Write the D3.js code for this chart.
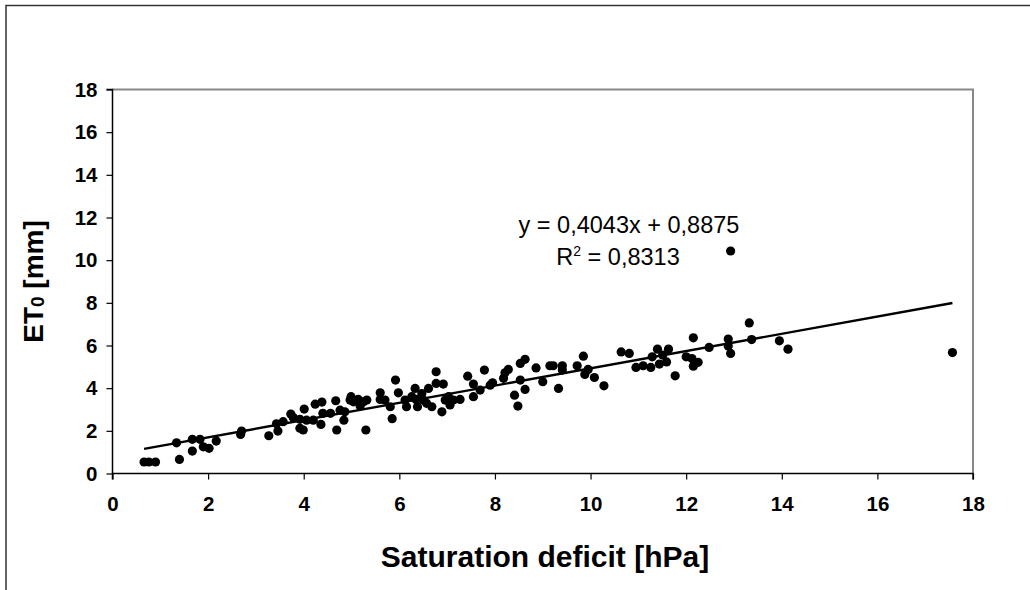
<!DOCTYPE html>
<html><head><meta charset="utf-8">
<script src="https://cdn.jsdelivr.net/npm/d3@7"></script>
<style>body{margin:0;background:#fff}svg{display:block;font-family:Arial,"Liberation Sans",sans-serif}</style>
</head><body>
<script>
const xVals = [0.66,0.76,0.9,1.34,1.40,1.67,1.67,1.83,1.90,2.02,2.17,2.70,2.68,3.27,3.43,3.46,3.57,3.73,3.78,3.92,3.92,3.99,4.01,4.06,4.2,4.24,4.38,4.36,4.4,4.56,4.67,4.69,4.76,4.84,4.86,4.97,
4.99,5.04,5.14,5.18,5.25,5.32,5.30,5.6,5.6,5.7,5.81,5.85,5.92,5.98,6.12,6.15,6.26,6.33,6.35,6.38,6.47,6.5,6.57,6.61,6.68,6.77,6.77,6.89,6.92,6.96,7.03,7.06,7.13,7.27,7.43,7.55,7.55,7.69,7.78,7.90,7.95,8.18,8.21,8.28,8.41,8.48,8.53,8.53,8.63,8.63,8.86,9.0,9.15,9.22,9.33,9.41,9.41,9.72,
9.85,9.88,9.95,10.08,10.28,10.64,10.81,10.95,11.1,11.26,11.29,11.40,11.44,11.51,11.59,11.63,11.77,12.0,12.12,12.15,12.15,12.25,12.48,12.88,12.88,12.93,12.93,13.32,13.37,13.95,14.13,17.57];
const yVals = [0.54,0.54,0.54,1.44,0.66,1.6,1.05,1.6,1.25,1.18,1.52,1.99,1.83,1.77,2.33,1.99,2.43,2.79,2.63,2.54,2.12,2.04,3.02,2.5,2.5,3.25,3.35,2.30,2.82,2.82,3.41,2.04,2.97,2.5,2.89,3.44,
3.6,3.36,3.47,3.16,3.36,3.44,2.04,3.78,3.47,3.44,3.13,2.57,4.38,3.78,3.44,3.13,3.6,3.99,3.47,3.13,3.75,3.44,3.29,3.99,3.13,4.22,4.77,2.89,4.19,3.44,3.6,3.21,3.44,3.47,4.56,4.19,3.6,3.91,4.85,4.14,4.25,4.46,4.72,4.88,3.67,3.16,4.38,5.16,5.35,3.94,4.95,4.3,5.05,5.05,3.99,4.85,5.05,5.05,
5.5,4.64,4.88,4.5,4.11,5.7,5.63,4.97,5.05,4.97,5.47,5.83,5.13,5.55,5.23,5.83,4.58,5.47,5.39,5.03,6.36,5.21,5.91,6.3,5.98,5.63,10.43,7.06,6.28,6.22,5.83,5.67];
const xTicks = [0,2,4,6,8,10,12,14,16,18];
const yTicks = [0,2,4,6,8,10,12,14,16,18];
const slope = 0.4043, intercept = 0.8875;
const eqLine1 = "y = 0,4043x + 0,8875";
const r2Value = "0,8313";
const xTitle = "Saturation deficit [hPa]";

const W = 1030, H = 590;
const L = 112.5, R = 973, T = 89.5, B = 473.5;
const svg = d3.select("body").append("svg").attr("width", W).attr("height", H);

// outer frame
svg.append("rect").attr("x",6).attr("y",5.5).attr("width",1100).attr("height",700)
  .attr("fill","none").attr("stroke","#333").attr("stroke-width",1.5);

const x = d3.scaleLinear().domain([0,18]).range([L,R]);
const y = d3.scaleLinear().domain([0,18]).range([B,T]);

// plot border (gray top/right)
svg.append("path").attr("d",`M${L},${T}H${R}V${B}`).attr("fill","none").attr("stroke","#888").attr("stroke-width",2);

const xAxis = svg.append("g").attr("transform",`translate(0,${B})`)
  .call(d3.axisBottom(x).tickValues(xTicks).tickSize(6).tickPadding(17).tickFormat(d3.format("d")));
const yAxis = svg.append("g").attr("transform",`translate(${L},0)`)
  .call(d3.axisLeft(y).tickValues(yTicks).tickSize(6).tickPadding(9).tickFormat(d3.format("d")));
[xAxis,yAxis].forEach(a=>{
  a.select(".domain").attr("stroke","#000").attr("stroke-width",1.5);
  a.selectAll(".tick line").attr("stroke","#000").attr("stroke-width",1.2);
  a.selectAll("text").attr("font-size",20.5).attr("font-weight","bold").attr("fill","#000")
   .attr("font-family","Arial, 'Liberation Sans', sans-serif");
});
xAxis.select(".domain").attr("d",`M${L},6V0H${R}V6`);
yAxis.select(".domain").attr("d",`M-6,${T}H0V${B}`);

// points
svg.append("g").selectAll("circle").data(xVals.map((v,i)=>[v,yVals[i]])).join("circle")
  .attr("cx",d=>x(d[0])).attr("cy",d=>y(d[1])).attr("r",4.6).attr("fill","#000");

// trend line
const xmin = d3.min(xVals), xmax = d3.max(xVals);
svg.append("line").attr("x1",x(xmin)).attr("y1",y(slope*xmin+intercept))
  .attr("x2",x(xmax)).attr("y2",y(slope*xmax+intercept)).attr("stroke","#000").attr("stroke-width",2.4);

// equation
svg.append("text").attr("x",629).attr("y",233).attr("text-anchor","middle").attr("font-size",23.5).text(eqLine1);
const r2 = svg.append("text").attr("x",618).attr("y",265).attr("text-anchor","middle").attr("font-size",23.5);
r2.append("tspan").text("R");
r2.append("tspan").attr("dy",-9).attr("font-size",14).text("2");
r2.append("tspan").attr("dy",9).text(" = " + r2Value);

// axis titles
svg.append("text").attr("x",545).attr("y",567).attr("text-anchor","middle")
  .attr("font-size",30).attr("font-weight","bold").text(xTitle);
const yt = svg.append("text").attr("transform",`translate(43,${(T+B)/2}) rotate(-90)`).attr("text-anchor","middle")
  .attr("font-size",28).attr("font-weight","bold");
yt.append("tspan").text("ET");
yt.append("tspan").attr("font-size",19).attr("dy",1).text("0");
yt.append("tspan").attr("dy",-1).text(" [mm]");
</script>
</body></html>
